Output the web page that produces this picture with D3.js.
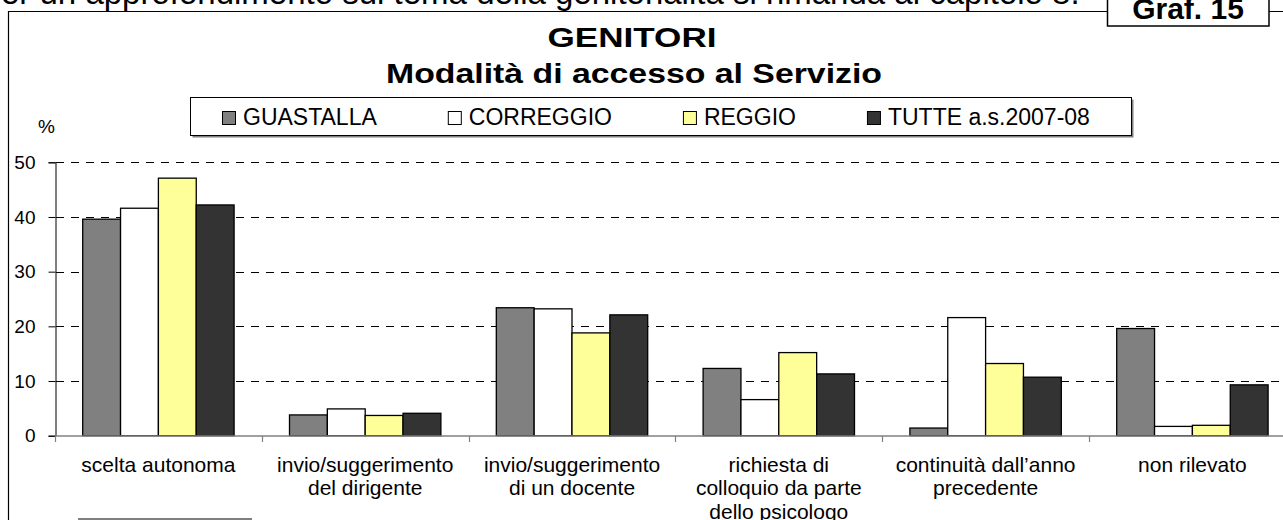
<!DOCTYPE html>
<html>
<head>
<meta charset="UTF-8">
<title>GENITORI - Modalità di accesso al Servizio</title>
<script src="https://cdn.jsdelivr.net/npm/d3@7"></script>
<style>
  body { margin: 0; background: #fff; }
  svg { display: block; font-family: "Liberation Sans", Arial, sans-serif; }
</style>
</head>
<body>
<div id="vis"></div>
<script>
// data
var categories = ["scelta autonoma", "invio/suggerimento\ndel dirigente", "invio/suggerimento\ndi un docente",
  "richiesta di\ncolloquio da parte\ndello psicologo", "continuità dall\u2019anno\nprecedente", "non rilevato"];
var seriesNames = ["GUASTALLA", "CORREGGIO", "REGGIO", "TUTTE a.s.2007-08"];
var guastalla = [39.6, 3.8, 23.4, 12.3, 1.4, 19.6];
var correggio = [41.6, 4.9, 23.2, 6.6, 21.6, 1.7];
var reggio    = [47.1, 3.7, 18.8, 15.2, 13.2, 1.9];
var tutte     = [42.2, 4.1, 22.1, 11.3, 10.7, 9.3];
var yTicks = [0, 10, 20, 30, 40, 50];
var colors = ["#808080", "#ffffff", "#ffff99", "#333333"];

var width = 1283, height = 520;
var values = [guastalla, correggio, reggio, tutte];

var svg = d3.select("#vis").append("svg")
  .attr("width", width)
  .attr("height", height);

// text cut at the top of the page
svg.append("text")
  .attr("x", -21).attr("y", 4)
  .style("font-size", "33px")
  .text("Per un approfondimento sul tema della genitorialità si rimanda al capitolo 8.");

// frame
svg.append("path")
  .attr("d", "M8.5,520 V11.5 H1107 M1269,11.5 H1283")
  .attr("fill", "none").attr("stroke", "#000").attr("stroke-width", 1.2);

svg.append("rect")
  .attr("x", 1107.5).attr("y", -5).attr("width", 161.5).attr("height", 31)
  .attr("fill", "#fff").attr("stroke", "#000").attr("stroke-width", 1.5);
svg.append("text")
  .attr("x", 1188).attr("y", 19)
  .attr("text-anchor", "middle")
  .style("font-size", "30px").style("font-weight", "bold")
  .text("Graf. 15");

// titles
svg.append("text")
  .attr("x", 632).attr("y", 47)
  .attr("text-anchor", "middle")
  .attr("textLength", 169).attr("lengthAdjust", "spacingAndGlyphs")
  .style("font-size", "27px").style("font-weight", "bold")
  .text("GENITORI");
svg.append("text")
  .attr("x", 634).attr("y", 83)
  .attr("text-anchor", "middle")
  .attr("textLength", 496).attr("lengthAdjust", "spacingAndGlyphs")
  .style("font-size", "27px").style("font-weight", "bold")
  .text("Modalità di accesso al Servizio");

// scales
var y = d3.scaleLinear().domain([0, 50]).range([435.7, 162.3]);
var x0 = d3.scaleBand().domain(categories).range([55, 55 + 6 * 206.8]).padding(0);
var x1 = d3.scaleBand().domain(seriesNames).range([0, x0.bandwidth()])
  .paddingInner(0).paddingOuter(0.732);

// gridlines
svg.append("g")
  .selectAll("line")
  .data(yTicks.filter(function(d) { return d > 0; }))
  .enter().append("line")
  .attr("x1", 56).attr("x2", width)
  .attr("y1", function(d) { return Math.round(y(d)) + 0.5; })
  .attr("y2", function(d) { return Math.round(y(d)) + 0.5; })
  .attr("stroke", "#000").attr("stroke-width", 1)
  .attr("stroke-dasharray", "8,7");

// y axis
var yAxis = d3.axisLeft(y).tickValues(yTicks).tickSize(7).tickPadding(13);
var gy = svg.append("g").attr("transform", "translate(55.5,0)").call(yAxis);
gy.select(".domain").attr("stroke", "#000");
gy.selectAll(".tick line").attr("stroke", "#000");
gy.selectAll(".tick text")
  .style("font-size", "19px").attr("fill", "#000")
  .style("font-family", "'Liberation Sans', Arial, sans-serif");

svg.append("text")
  .attr("x", 38).attr("y", 133)
  .style("font-size", "19px")
  .text("%");

// bars
var groups = svg.append("g")
  .selectAll("g")
  .data(categories)
  .enter().append("g")
  .attr("transform", function(d) { return "translate(" + x0(d) + ",0)"; });

groups.selectAll("rect")
  .data(function(d, i) {
    return seriesNames.map(function(s, j) { return {s: s, j: j, v: values[j][i]}; });
  })
  .enter().append("rect")
  .attr("x", function(d) { return x1(d.s); })
  .attr("y", function(d) { return y(d.v); })
  .attr("width", x1.bandwidth())
  .attr("height", function(d) { return y(0) - y(d.v); })
  .attr("fill", function(d) { return colors[d.j]; })
  .attr("stroke", "#000")
  .attr("stroke-width", 1.3);

// x axis
var xAxisLine = svg.append("g");
xAxisLine.append("line")
  .attr("x1", 55).attr("x2", width)
  .attr("y1", 436).attr("y2", 436)
  .attr("stroke", "#808080").attr("stroke-width", 1.5);
xAxisLine.selectAll("line.tk")
  .data(categories)
  .enter().append("line")
  .attr("class", "tk")
  .attr("x1", function(d) { return Math.round(x0(d)) + 0.5; })
  .attr("x2", function(d) { return Math.round(x0(d)) + 0.5; })
  .attr("y1", 436).attr("y2", 442)
  .attr("stroke", "#808080").attr("stroke-width", 1.2);

// category labels
var labels = svg.append("g")
  .selectAll("text")
  .data(categories)
  .enter().append("text")
  .attr("text-anchor", "middle")
  .style("font-size", "21px")
  .attr("transform", function(d) { return "translate(" + (x0(d) + x0.bandwidth() / 2) + ",471.5)"; });
labels.selectAll("tspan")
  .data(function(d) { return d.split("\n"); })
  .enter().append("tspan")
  .attr("x", 0)
  .attr("dy", function(d, i) { return i === 0 ? 0 : 23.5; })
  .text(function(d) { return d; });

// legend
var legend = svg.append("g");
legend.append("rect")
  .attr("x", 192.5).attr("y", 99.5).attr("width", 941).attr("height", 38)
  .attr("fill", "#808080");
legend.append("rect")
  .attr("x", 190.5).attr("y", 97.5).attr("width", 941).attr("height", 38)
  .attr("fill", "#fff").attr("stroke", "#000").attr("stroke-width", 1);

var lx = 222;
seriesNames.forEach(function(name, j) {
  var item = legend.append("g").attr("transform", "translate(" + lx + ",0)");
  item.append("rect")
    .attr("x", 0.5).attr("y", 111.5).attr("width", 13).attr("height", 13)
    .attr("fill", colors[j]).attr("stroke", "#000").attr("stroke-width", 1);
  var t = item.append("text")
    .attr("x", 21).attr("y", 125)
    .style("font-size", "23px")
    .text(name);
  lx += 21 + t.node().getComputedTextLength() + 71;
});

// short rule under the chart
svg.append("line")
  .attr("x1", 78).attr("x2", 252)
  .attr("y1", 519).attr("y2", 519)
  .attr("stroke", "#000").attr("stroke-width", 1.2);
</script>
</body>
</html>
